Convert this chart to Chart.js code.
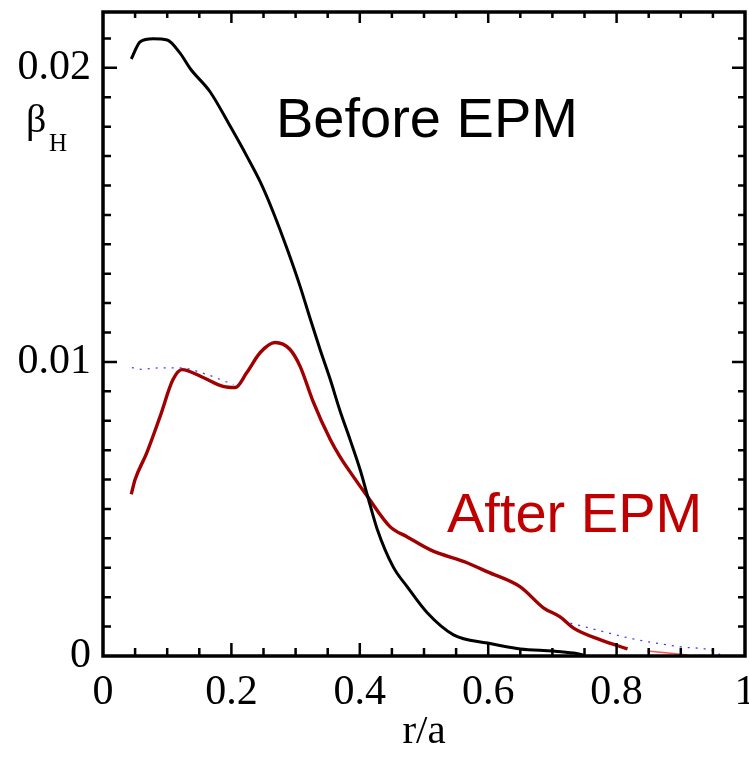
<!DOCTYPE html>
<html>
<head>
<meta charset="utf-8">
<script src="https://cdn.jsdelivr.net/npm/chart.js@4"></script>
<style>
  body { margin: 0; background: #fff; }
  canvas { display: block; }
</style>
</head>
<body>
<canvas id="betaChart" width="749" height="757"></canvas>
<script>
// profiles
const rBefore = [0.044, 0.058, 0.078, 0.10, 0.12, 0.136, 0.167, 0.198, 0.224, 0.245, 0.265, 0.287, 0.307, 0.323, 0.338, 0.354, 0.369, 0.385, 0.401, 0.412, 0.427, 0.452, 0.474, 0.505, 0.546, 0.599, 0.650, 0.701, 0.733, 0.75];
const betaBefore = [0.0203, 0.02089, 0.02099, 0.02095, 0.0205, 0.01997, 0.01918, 0.01802, 0.0170, 0.01612, 0.0151, 0.01383, 0.01257, 0.01145, 0.01043, 0.0094, 0.00835, 0.00735, 0.0063, 0.00545, 0.00432, 0.00303, 0.00235, 0.00147, 0.00072, 0.00044, 0.00024, 0.00017, 0.0001, 0.00003];

const rAfter = [0.044, 0.05, 0.068, 0.089, 0.109, 0.123, 0.156, 0.187, 0.206, 0.224, 0.245, 0.268, 0.291, 0.307, 0.327, 0.354, 0.369, 0.39, 0.412, 0.447, 0.474, 0.51, 0.567, 0.599, 0.65, 0.686, 0.712, 0.733, 0.775, 0.817];
const betaAfter = [0.0055, 0.006, 0.0069, 0.00815, 0.0094, 0.00974, 0.00947, 0.00917, 0.00913, 0.00964, 0.01032, 0.01066, 0.01043, 0.00985, 0.00867, 0.00736, 0.00678, 0.0061, 0.00542, 0.0044, 0.00405, 0.00361, 0.00317, 0.00286, 0.00235, 0.00164, 0.00133, 0.00095, 0.00055, 0.00024];

// blue dotted fit (hidden under the red curve in the middle)
const rFit = [0.045, 0.06, 0.089, 0.12, 0.162, 0.203, 0.5, 0.728, 0.826, 0.9, 0.951, 0.962];
const betaFit = [0.00981, 0.00975, 0.0098, 0.0098, 0.00957, 0.00923, null, 0.00112, 0.00058, 0.00031, 0.00017, 0.00003];

const rTail = [0.848, 0.88, 0.91];
const betaTail = [0.00017, 0.0001, 0.00003];

const xTicks = [0, 0.2, 0.4, 0.6, 0.8, 1];
const yTicks = [0, 0.01, 0.02];

const pts = (xs, ys) => xs.map((x, i) => ({ x: x, y: ys[i] }));

// box with inward ticks on all four sides, plus the text labels
const framePlugin = {
  id: "frame",
  afterDraw(chart) {
    const { ctx, chartArea: a, scales } = chart;
    const xs = scales.x, ys = scales.y;
    ctx.save();
    ctx.strokeStyle = "#000";
    ctx.lineWidth = 2.5;
    ctx.beginPath();
    for (let i = 1; i < 20; i++) {
      const v = i * 0.05;
      const px = xs.getPixelForValue(v);
      const len = i % 4 === 0 ? 13 : 8;
      ctx.moveTo(px, a.bottom); ctx.lineTo(px, a.bottom - len);
      ctx.moveTo(px, a.top); ctx.lineTo(px, a.top + len - 2);
    }
    for (let i = 1; i <= 21; i++) {
      const v = i * 0.001;
      const py = ys.getPixelForValue(v);
      const len = i % 10 === 0 ? 14 : 8;
      ctx.moveTo(a.left, py); ctx.lineTo(a.left + len, py);
      ctx.moveTo(a.right, py); ctx.lineTo(a.right - len + 1, py);
    }
    ctx.stroke();
    ctx.lineWidth = 3.5;
    ctx.strokeRect(a.left, a.top, a.right - a.left, a.bottom - a.top);

    ctx.fillStyle = "#000";
    ctx.textBaseline = "alphabetic";
    ctx.font = "40px 'Liberation Serif'";
    ctx.fillText("\u03B2", 26, 132);
    ctx.font = "25px 'Liberation Serif'";
    ctx.fillText("H", 49, 151);

    ctx.font = "56px 'Liberation Sans'";
    ctx.fillText("Before EPM", 276, 137);
    ctx.fillStyle = "#c00000";
    ctx.fillText("After EPM", 447, 532);
    ctx.restore();
  }
};

const tickFont = { family: "'Liberation Serif'", size: 42 };

new Chart(document.getElementById("betaChart"), {
  type: "scatter",
  data: {
    datasets: [
      {
        data: pts(rFit, betaFit),
        showLine: true,
        borderColor: "rgba(40, 40, 255, 0.9)",
        borderWidth: 1.3,
        borderDash: [2, 6],
        pointRadius: 0,
        spanGaps: false,
        cubicInterpolationMode: "monotone"
      },
      {
        data: pts(rTail, betaTail),
        showLine: true,
        borderColor: "rgba(255, 40, 40, 0.8)",
        borderWidth: 1.5,
        pointRadius: 0
      },
      {
        data: pts(rBefore, betaBefore),
        showLine: true,
        borderColor: "#000",
        borderWidth: 3,
        pointRadius: 0,
        cubicInterpolationMode: "monotone"
      },
      {
        data: pts(rAfter, betaAfter),
        showLine: true,
        borderColor: "#a00000",
        borderWidth: 3.4,
        pointRadius: 0,
        cubicInterpolationMode: "monotone"
      }
    ]
  },
  options: {
    responsive: false,
    animation: false,
    devicePixelRatio: 1,
    layout: { padding: { top: 12, right: 4, left: 0, bottom: 0 } },
    plugins: {
      legend: { display: false },
      tooltip: { enabled: false }
    },
    scales: {
      x: {
        type: "linear",
        min: 0,
        max: 1,
        grid: { display: false, drawTicks: false, tickLength: 0 },
        border: { display: false },
        afterBuildTicks: (s) => { s.ticks = xTicks.map(v => ({ value: v })); },
        afterFit: (s) => { s.height = 101; s.paddingLeft = 0; s.paddingRight = 0; },
        ticks: {
          padding: 12,
          color: "#000",
          maxRotation: 0,
          font: tickFont,
          callback: (v) => String(v)
        },
        title: {
          display: true,
          text: "r/a",
          color: "#000",
          padding: { top: 0, bottom: 0 },
          font: { family: "'Liberation Serif'", size: 41 }
        }
      },
      y: {
        type: "linear",
        min: 0,
        max: 0.0219,
        grid: { display: false, drawTicks: false, tickLength: 0 },
        border: { display: false },
        afterBuildTicks: (s) => { s.ticks = yTicks.map(v => ({ value: v })); },
        afterFit: (s) => { s.width = 103; s.paddingTop = 0; s.paddingBottom = 0; },
        ticks: {
          padding: 12,
          color: "#000",
          font: tickFont,
          callback: (v) => String(v)
        }
      }
    }
  },
  plugins: [framePlugin]
});
</script>
</body>
</html>
